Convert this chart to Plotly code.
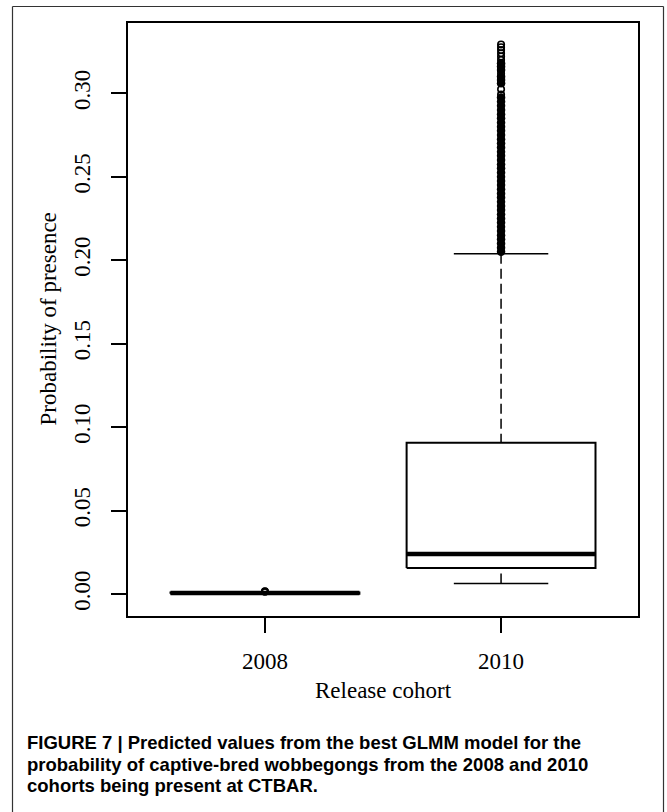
import plotly.graph_objects as go

# ---------------- data ----------------
cohorts = ["2008", "2010"]
positions = [1, 2]
q1 = [0.0002, 0.0156]
median = [0.0006, 0.0240]
q3 = [0.0009, 0.0906]
lower_fence = [0.0000, 0.0062]
upper_fence = [0.0012, 0.2038]

# outliers drawn as open circles (sparse)
out_2008 = [0.0013, 0.0015, 0.0017]
out_2010_sparse = [0.3292, 0.3276, 0.3259, 0.3240, 0.3220, 0.3200, 0.3172,
                   0.3140, 0.3118, 0.3090, 0.3062, 0.3024, 0.2992]
# outliers so dense that they merge into a solid column
out_2010_dense = [0.2050, 0.2075, 0.2100, 0.2125, 0.2150, 0.2175, 0.2200, 0.2225,
                  0.2250, 0.2275, 0.2300, 0.2325, 0.2350, 0.2375, 0.2400, 0.2425,
                  0.2450, 0.2475, 0.2500, 0.2525, 0.2550, 0.2575, 0.2600, 0.2625,
                  0.2650, 0.2675, 0.2700, 0.2725, 0.2750, 0.2775, 0.2800, 0.2825,
                  0.2850, 0.2875, 0.2900, 0.2925, 0.2950, 0.2975,
                  0.3060, 0.3080, 0.3100, 0.3140, 0.3160, 0.3180]

y_ticks = [0.00, 0.05, 0.10, 0.15, 0.20, 0.25, 0.30]
y_tick_text = ["0.00", "0.05", "0.10", "0.15", "0.20", "0.25", "0.30"]

caption_lines = [
    "FIGURE 7 | Predicted values from the best GLMM model for the",
    "probability of captive-bred wobbegongs from the 2008 and 2010",
    "cohorts being present at CTBAR.",
]

# ---------------- styling / layout ----------------
SERIF = "Liberation Serif, Times New Roman, serif"
SANS = "Liberation Sans, Arial, sans-serif"
BOX_HALF = 0.4
CAP_HALF = 0.2
W = 667
H = 812
ML, MR, MT, MB = 128, 29, 23, 196
PW = W - ML - MR
PH = H - MT - MB


def px_x(sx):
    return (sx - ML) / PW


def px_y(sy):
    return (H - MB - sy) / PH


fig = go.Figure()

for p, a, m, b, lf, uf in zip(positions, q1, median, q3, lower_fence, upper_fence):
    # whiskers (dashed)
    fig.add_trace(go.Scatter(x=[p, p], y=[uf, b], mode="lines",
                             line=dict(color="black", width=1.5, dash="10px,5px"),
                             hoverinfo="skip", showlegend=False))
    fig.add_trace(go.Scatter(x=[p, p], y=[lf, a], mode="lines",
                             line=dict(color="black", width=1.5, dash="10px,5px"),
                             hoverinfo="skip", showlegend=False))
    # staples
    for v in (lf, uf):
        fig.add_trace(go.Scatter(x=[p - CAP_HALF, p + CAP_HALF], y=[v, v], mode="lines",
                                 line=dict(color="black", width=1.5),
                                 hoverinfo="skip", showlegend=False))
    # box
    fig.add_trace(go.Scatter(x=[p - BOX_HALF, p + BOX_HALF, p + BOX_HALF, p - BOX_HALF, p - BOX_HALF],
                             y=[a, a, b, b, a], mode="lines",
                             line=dict(color="black", width=2),
                             hoverinfo="skip", showlegend=False))
    # median
    fig.add_trace(go.Scatter(x=[p - BOX_HALF, p + BOX_HALF], y=[m, m], mode="lines",
                             line=dict(color="black", width=4.5),
                             hoverinfo="skip", showlegend=False))

# outliers
fig.add_trace(go.Scatter(x=[positions[0]] * len(out_2008), y=out_2008, mode="markers",
                         marker=dict(symbol="circle-open", size=6, color="black",
                                     line=dict(width=1.8, color="black")),
                         hoverinfo="skip", showlegend=False))
fig.add_trace(go.Scatter(x=[positions[1]] * len(out_2010_dense), y=out_2010_dense, mode="markers",
                         marker=dict(symbol="circle", size=8.5, color="black",
                                     line=dict(width=0)),
                         hoverinfo="skip", showlegend=False))
fig.add_trace(go.Scatter(x=[positions[1]] * len(out_2010_sparse), y=out_2010_sparse, mode="markers",
                         marker=dict(symbol="circle-open", size=6.5, color="black",
                                     line=dict(width=1.6, color="black")),
                         hoverinfo="skip", showlegend=False))

axis_common = dict(showline=True, linecolor="black", linewidth=2, mirror=True,
                   ticks="outside", ticklen=15, tickwidth=1.6, tickcolor="black",
                   showgrid=False, zeroline=False,
                   tickfont=dict(family=SERIF, size=23, color="black"))

annotations = [
    dict(text="Release cohort", xref="paper", yref="paper", x=0.5, y=px_y(690),
         xanchor="center", yanchor="middle", showarrow=False,
         font=dict(family=SERIF, size=23, color="black")),
    dict(text="Probability of presence", xref="paper", yref="paper", x=px_x(48), y=0.5,
         xanchor="center", yanchor="middle", textangle=-90, showarrow=False,
         font=dict(family=SERIF, size=23, color="black")),
]
for i, line in enumerate(caption_lines):
    annotations.append(dict(text=line, xref="paper", yref="paper",
                            x=px_x(25), y=px_y(729.5 + 22 * i),
                            xanchor="left", yanchor="top", align="left", showarrow=False,
                            bgcolor="rgba(0,0,0,0)",
                            font=dict(family=SANS, size=18.5, color="black", weight="bold")))

FRAME = dict(color="#333333", width=1.2)
frame_left, frame_right, frame_top = 12.5, 663.5, 6.5
frame_breaks = [6.5, 700, 812]
shapes = [
    dict(type="line", xref="paper", yref="paper", x0=px_x(frame_left), x1=px_x(frame_right),
         y0=px_y(frame_top), y1=px_y(frame_top), line=FRAME),
]
for fx in (frame_left, frame_right):
    for y_a, y_b in zip(frame_breaks[:-1], frame_breaks[1:]):
        shapes.append(dict(type="line", xref="paper", yref="paper",
                           x0=px_x(fx), x1=px_x(fx), y0=px_y(y_a), y1=px_y(y_b), line=FRAME))

fig.update_layout(
    width=W, height=H,
    margin=dict(l=ML, r=MR, t=MT, b=MB, pad=0),
    paper_bgcolor="white", plot_bgcolor="white",
    xaxis=dict(range=[0.42, 2.58], tickmode="array", tickvals=positions, ticktext=cohorts,
               ticklabelstandoff=8, **axis_common),
    yaxis=dict(range=[-0.0132, 0.3421], tickmode="array", tickvals=y_ticks, ticktext=y_tick_text,
               tickangle=-90, ticklabelstandoff=12, **axis_common),
    shapes=shapes,
    annotations=annotations,
)

fig.write_html("out.html", config={"displayModeBar": False},
               post_script="document.body.style.margin='0px';")
